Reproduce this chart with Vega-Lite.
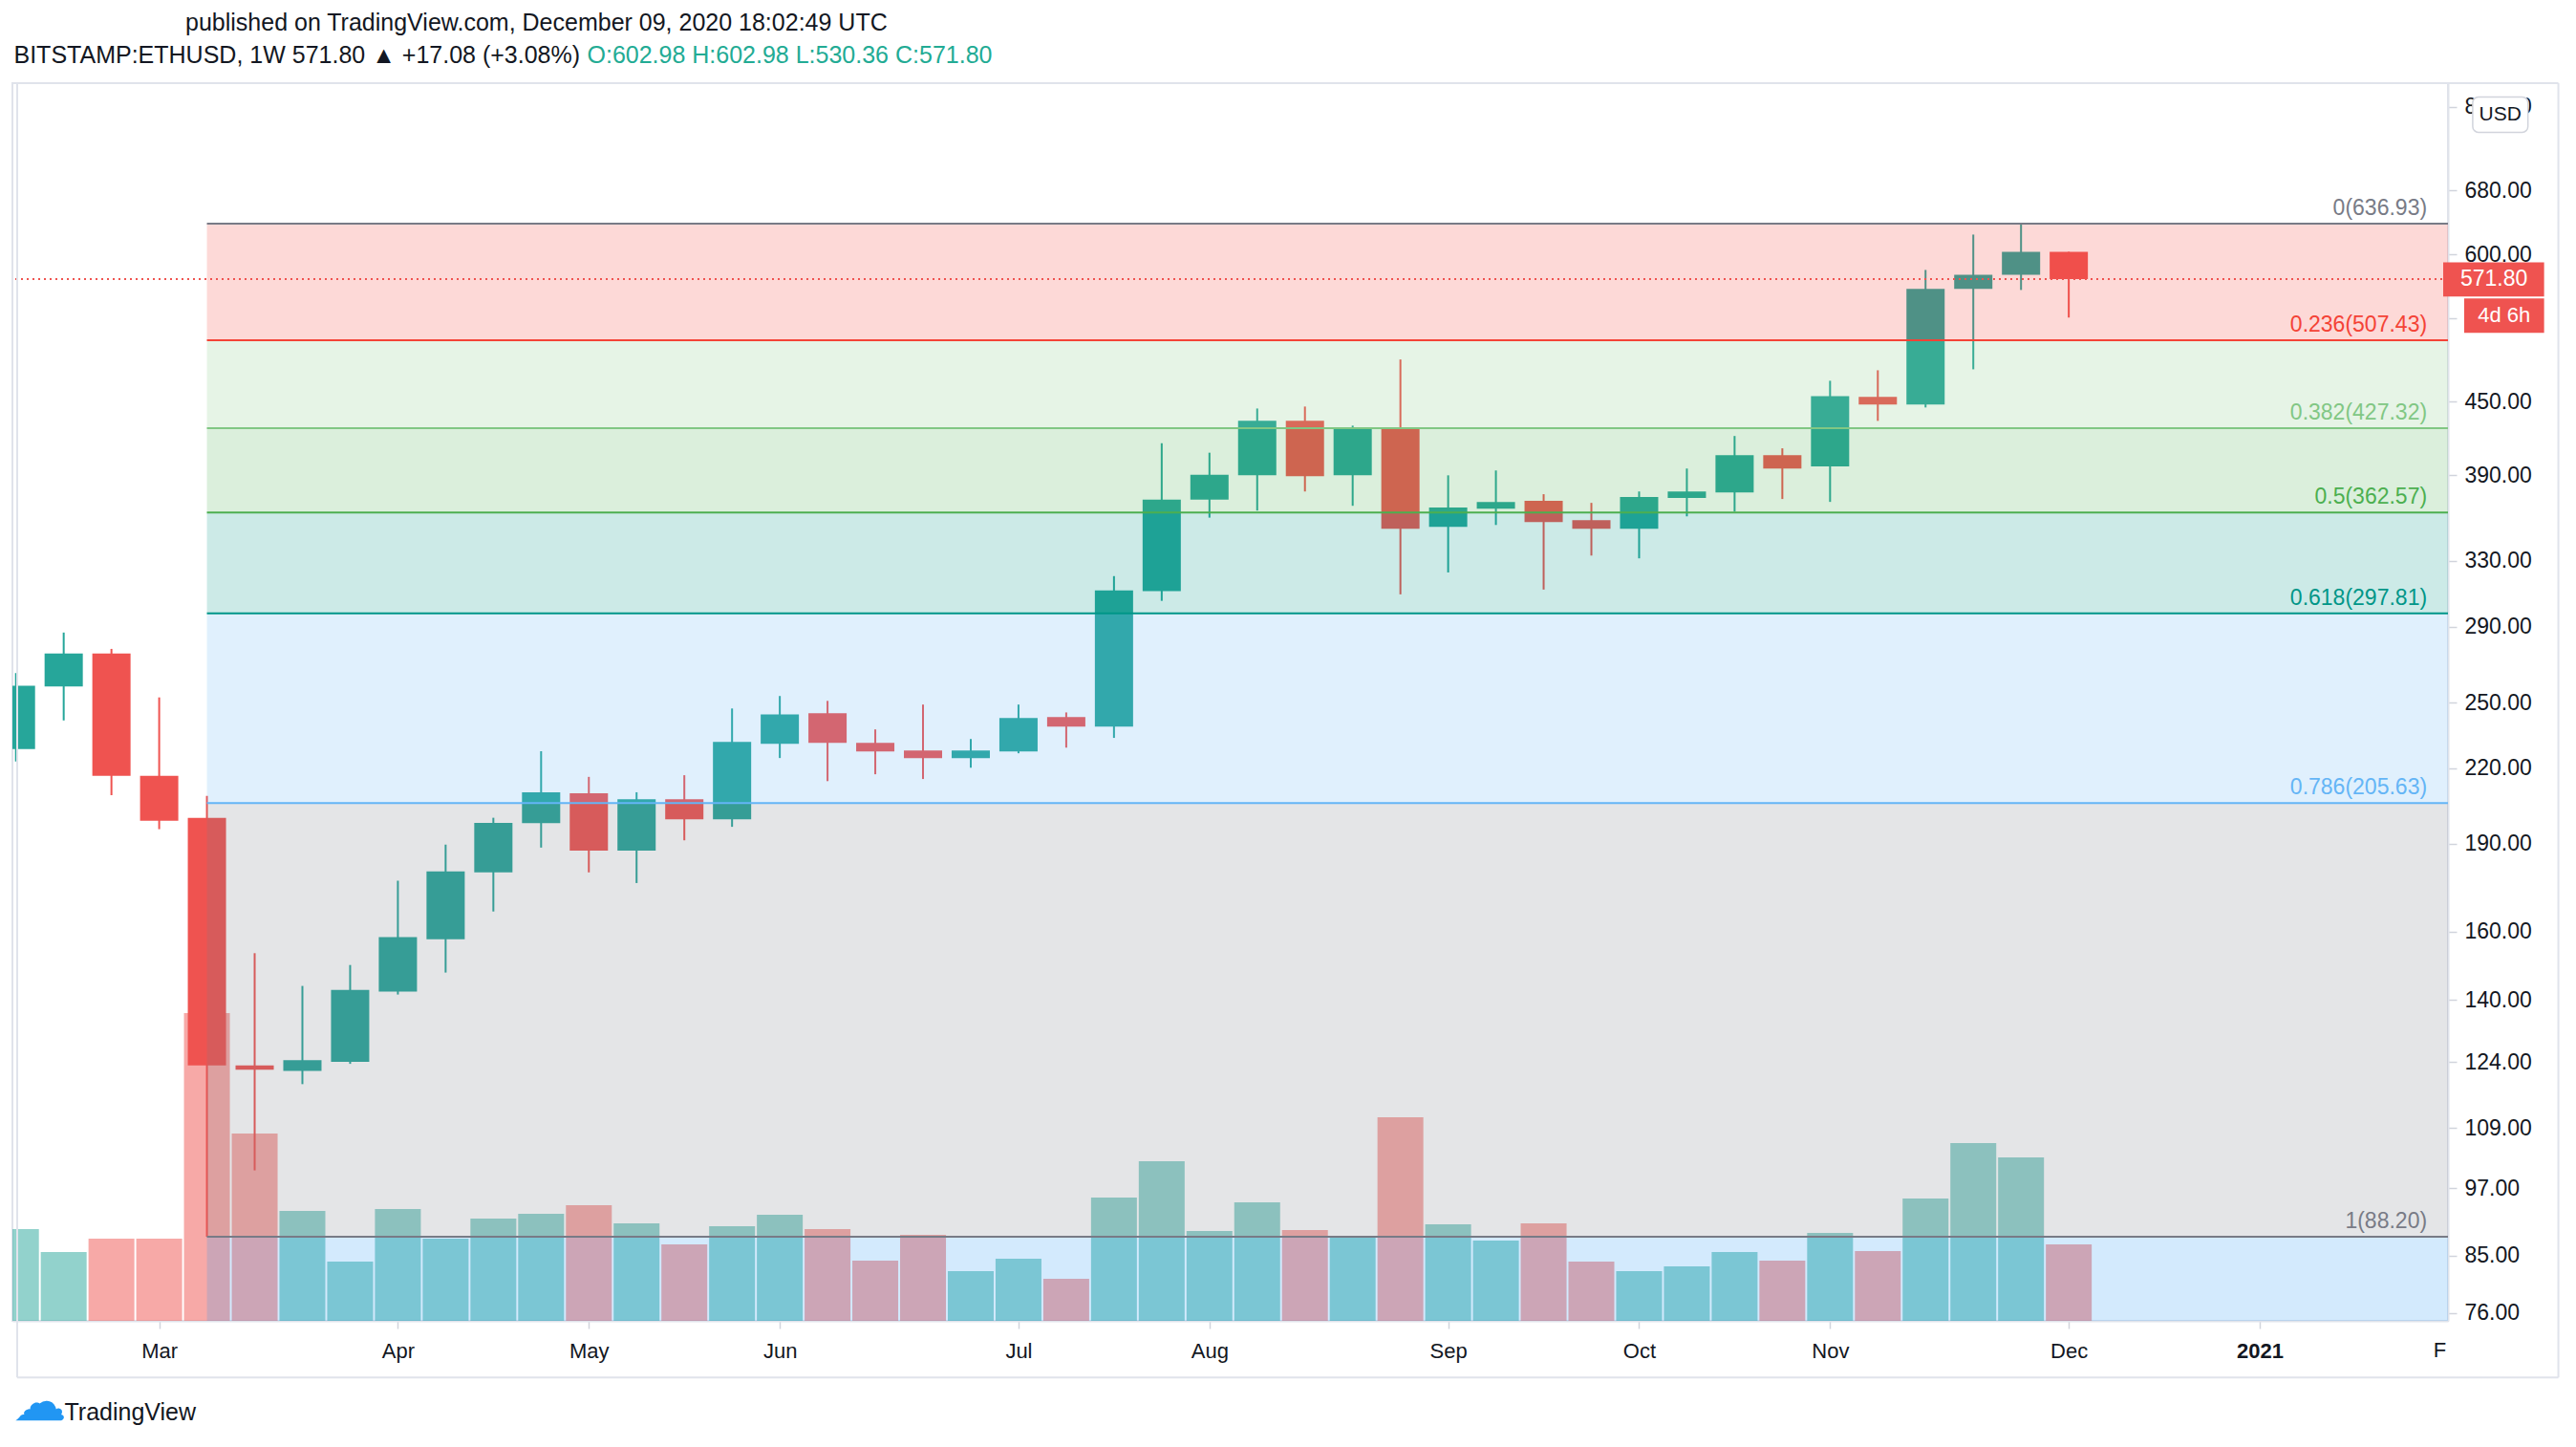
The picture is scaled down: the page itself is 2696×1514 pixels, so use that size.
{
  "$schema": "https://vega.github.io/schema/vega-lite/v6.json",
  "autosize": {"type": "none"},
  "width": 2549,
  "height": 1295,
  "padding": {"left": 13, "top": 87, "right": 134, "bottom": 132},
  "background": "white",
  "config": {
    "view": {"stroke": "#E0E3EB", "strokeWidth": 2},
    "font": "Liberation Sans"
  },
  "title": {
    "text": "published on TradingView.com, December 09, 2020 18:02:49 UTC",
    "anchor": "start",
    "frame": "group",
    "dx": 181,
    "offset": 8,
    "font": "Liberation Sans",
    "fontSize": 25,
    "fontWeight": "normal",
    "color": "#131722"
  },
  "datasets": {
    "candles": [
      {"date": "2020-02-10", "open": 228.5, "high": 265.0, "low": 223.0, "close": 258.5, "volume": 288},
      {"date": "2020-02-17", "open": 258.1, "high": 286.8, "low": 241.6, "close": 275.3, "volume": 216},
      {"date": "2020-02-24", "open": 275.3, "high": 277.8, "low": 208.8, "close": 216.8, "volume": 258},
      {"date": "2020-03-02", "open": 216.8, "high": 252.7, "low": 195.4, "close": 198.6, "volume": 258},
      {"date": "2020-03-09", "open": 199.8, "high": 208.5, "low": 88.2, "close": 123.2, "volume": 966},
      {"date": "2020-03-16", "open": 123.2, "high": 153.4, "low": 100.4, "close": 122.2, "volume": 588},
      {"date": "2020-03-23", "open": 121.9, "high": 143.9, "low": 118.8, "close": 124.5, "volume": 345},
      {"date": "2020-03-30", "open": 124.1, "high": 149.9, "low": 123.6, "close": 142.8, "volume": 186},
      {"date": "2020-04-06", "open": 142.3, "high": 176.7, "low": 141.5, "close": 158.3, "volume": 351},
      {"date": "2020-04-13", "open": 157.6, "high": 189.6, "low": 147.7, "close": 179.9, "volume": 258},
      {"date": "2020-04-20", "open": 179.6, "high": 199.8, "low": 166.4, "close": 197.8, "volume": 321},
      {"date": "2020-04-27", "open": 197.7, "high": 227.5, "low": 188.5, "close": 210.0, "volume": 336},
      {"date": "2020-05-04", "open": 209.6, "high": 216.4, "low": 179.6, "close": 187.4, "volume": 363},
      {"date": "2020-05-11", "open": 187.4, "high": 210.0, "low": 175.9, "close": 207.2, "volume": 306},
      {"date": "2020-05-18", "open": 207.2, "high": 217.1, "low": 191.2, "close": 199.2, "volume": 240},
      {"date": "2020-05-25", "open": 199.2, "high": 247.3, "low": 196.3, "close": 231.7, "volume": 297},
      {"date": "2020-06-01", "open": 230.8, "high": 253.4, "low": 224.5, "close": 244.5, "volume": 333},
      {"date": "2020-06-08", "open": 245.0, "high": 251.0, "low": 214.6, "close": 231.2, "volume": 288},
      {"date": "2020-06-15", "open": 231.2, "high": 237.4, "low": 217.5, "close": 227.4, "volume": 189},
      {"date": "2020-06-22", "open": 227.8, "high": 249.2, "low": 215.5, "close": 224.5, "volume": 270},
      {"date": "2020-06-29", "open": 224.5, "high": 233.0, "low": 220.3, "close": 227.8, "volume": 156},
      {"date": "2020-07-06", "open": 227.4, "high": 249.2, "low": 226.6, "close": 242.7, "volume": 195},
      {"date": "2020-07-13", "open": 243.2, "high": 245.4, "low": 229.1, "close": 238.7, "volume": 132},
      {"date": "2020-07-20", "open": 238.7, "high": 320.2, "low": 233.5, "close": 311.4, "volume": 387},
      {"date": "2020-07-27", "open": 311.0, "high": 415.0, "low": 305.1, "close": 371.8, "volume": 501},
      {"date": "2020-08-03", "open": 371.8, "high": 407.4, "low": 358.9, "close": 390.3, "volume": 282},
      {"date": "2020-08-10", "open": 389.8, "high": 444.1, "low": 363.9, "close": 433.5, "volume": 372},
      {"date": "2020-08-17", "open": 433.5, "high": 445.8, "low": 377.7, "close": 389.1, "volume": 285},
      {"date": "2020-08-24", "open": 389.8, "high": 429.5, "low": 367.3, "close": 427.9, "volume": 261},
      {"date": "2020-08-31", "open": 427.9, "high": 488.7, "low": 309.0, "close": 351.2, "volume": 639},
      {"date": "2020-09-07", "open": 352.5, "high": 389.8, "low": 322.5, "close": 366.0, "volume": 303},
      {"date": "2020-09-14", "open": 365.3, "high": 393.5, "low": 353.8, "close": 370.1, "volume": 252},
      {"date": "2020-09-21", "open": 370.8, "high": 375.7, "low": 311.9, "close": 355.8, "volume": 306},
      {"date": "2020-09-28", "open": 357.2, "high": 369.4, "low": 333.3, "close": 351.2, "volume": 186},
      {"date": "2020-10-05", "open": 351.2, "high": 377.7, "low": 331.5, "close": 373.6, "volume": 156},
      {"date": "2020-10-12", "open": 372.9, "high": 395.0, "low": 359.8, "close": 377.7, "volume": 171},
      {"date": "2020-10-19", "open": 377.0, "high": 420.9, "low": 363.2, "close": 405.5, "volume": 216},
      {"date": "2020-10-26", "open": 405.5, "high": 410.9, "low": 372.2, "close": 395.0, "volume": 189},
      {"date": "2020-11-02", "open": 396.7, "high": 468.8, "low": 370.1, "close": 455.0, "volume": 276},
      {"date": "2020-11-09", "open": 454.2, "high": 478.5, "low": 433.5, "close": 447.5, "volume": 219},
      {"date": "2020-11-16", "open": 447.5, "high": 582.0, "low": 445.0, "close": 560.8, "volume": 384},
      {"date": "2020-11-23", "open": 560.8, "high": 623.6, "low": 479.4, "close": 576.6, "volume": 558},
      {"date": "2020-11-30", "open": 576.6, "high": 636.93, "low": 559.7, "close": 602.98, "volume": 513},
      {"date": "2020-12-07", "open": 602.98, "high": 602.98, "low": 530.36, "close": 571.80, "volume": 240}
    ],
    "fibLevels": [
      {"level": "0", "price": 636.93, "start": "2020-03-09", "label": "0(636.93)"},
      {"level": "0.236", "price": 507.43, "start": "2020-03-09", "label": "0.236(507.43)"},
      {"level": "0.382", "price": 427.32, "start": "2020-03-09", "label": "0.382(427.32)"},
      {"level": "0.5", "price": 362.57, "start": "2020-03-09", "label": "0.5(362.57)"},
      {"level": "0.618", "price": 297.81, "start": "2020-03-09", "label": "0.618(297.81)"},
      {"level": "0.786", "price": 205.63, "start": "2020-03-09", "label": "0.786(205.63)"},
      {"level": "1", "price": 88.20, "start": "2020-03-09", "label": "1(88.20)"}
    ],
    "fibZones": [
      {"level": "0.236", "top": 636.93, "bottom": 507.43, "start": "2020-03-09"},
      {"level": "0.382", "top": 507.43, "bottom": 427.32, "start": "2020-03-09"},
      {"level": "0.5", "top": 427.32, "bottom": 362.57, "start": "2020-03-09"},
      {"level": "0.618", "top": 362.57, "bottom": 297.81, "start": "2020-03-09"},
      {"level": "0.786", "top": 297.81, "bottom": 205.63, "start": "2020-03-09"},
      {"level": "1", "top": 205.63, "bottom": 88.20, "start": "2020-03-09"},
      {"level": "1.618", "top": 88.20, "bottom": 70, "start": "2020-03-09"}
    ],
    "one": [{}]
  },
  "layer": [
    {
      "data": {"name": "candles"},
      "mark": {"type": "bar", "size": 48, "opacity": 0.5, "clip": true},
      "encoding": {
        "x": {
          "field": "date", "type": "temporal",
          "scale": {
            "type": "utc",
            "domain": [
              {"year": 2020, "month": 2, "date": 10, "hours": 4, "minutes": 21, "utc": true},
              {"year": 2021, "month": 1, "date": 30, "hours": 21, "minutes": 36, "utc": true}
            ]
          },
          "axis": {
            "values": [
              {"year": 2020, "month": 3, "date": 2, "utc": true},
              {"year": 2020, "month": 4, "date": 6, "utc": true},
              {"year": 2020, "month": 5, "date": 4, "utc": true},
              {"year": 2020, "month": 6, "date": 1, "utc": true},
              {"year": 2020, "month": 7, "date": 6, "utc": true},
              {"year": 2020, "month": 8, "date": 3, "utc": true},
              {"year": 2020, "month": 9, "date": 7, "utc": true},
              {"year": 2020, "month": 10, "date": 5, "utc": true},
              {"year": 2020, "month": 11, "date": 2, "utc": true},
              {"year": 2020, "month": 12, "date": 7, "utc": true},
              {"year": 2021, "month": 1, "date": 4, "utc": true}
            ],
            "labelExpr": "utcmonth(datum.value) == 0 ? utcFormat(datum.value, '%Y') : utcFormat(datum.value, '%b')",
            "labelFont": "Liberation Sans",
            "labelFontSize": 22,
            "labelColor": "#131722",
            "labelFontWeight": {"condition": {"test": "utcmonth(datum.value) == 0", "value": "bold"}, "value": "normal"},
            "labelBaseline": "middle",
            "labelPadding": 23,
            "labelFlush": false,
            "labelOverlap": false,
            "tickSize": 8,
            "tickColor": "#D1D4DC",
            "tickWidth": 1.5,
            "domainColor": "#E0E3EB",
            "domainWidth": 2,
            "grid": false,
            "title": "TradingView",
            "titleX": 54,
            "titleY": 95,
            "titleAlign": "left",
            "titleBaseline": "middle",
            "titleFont": "Liberation Sans",
            "titleFontSize": 25,
            "titleFontWeight": "normal",
            "titleColor": "#131722"
          }
        },
        "y": {
          "field": "volume", "type": "quantitative",
          "scale": {"domain": [0, 3885], "nice": false, "zero": true},
          "axis": {
            "orient": "left",
            "domain": false, "ticks": false, "labels": false, "grid": false,
            "title": "O:602.98 H:602.98 L:530.36 C:571.80",
            "titleAngle": 0,
            "titleX": 601,
            "titleY": -30,
            "titleAlign": "left",
            "titleBaseline": "middle",
            "titleFont": "Liberation Sans",
            "titleFontSize": 25,
            "titleFontWeight": "normal",
            "titleColor": "#22AB94"
          }
        },
        "color": {"condition": {"test": "datum.close >= datum.open", "value": "#26A69A"}, "value": "#EF5350"}
      }
    },
    {
      "layer": [
        {
          "data": {"name": "candles"},
          "mark": {"type": "rule", "strokeWidth": 2, "clip": true},
          "encoding": {
            "x": {"field": "date", "type": "temporal"},
            "y": {
              "field": "low", "type": "quantitative",
              "scale": {"type": "log", "domain": [74.85, 838.0], "nice": false},
              "axis": {
                "orient": "right",
                "values": [76, 85, 97, 109, 124, 140, 160, 190, 220, 250, 290, 330, 390, 450, 530, 600, 680, 800],
                "format": ".2f",
                "labelFont": "Liberation Sans",
                "labelFontSize": 23,
                "labelColor": "#131722",
                "labelPadding": 8,
                "labelOverlap": false,
                "labelFlush": false,
                "tickSize": 9,
                "tickColor": "#D1D4DC",
                "tickWidth": 1.5,
                "domainColor": "#E0E3EB",
                "domainWidth": 2,
                "grid": false,
                "title": "BITSTAMP:ETHUSD, 1W 571.80 ▲ +17.08 (+3.08%)",
                "titleAngle": 0,
                "titleX": -2548,
                "titleY": -30,
                "titleAlign": "left",
                "titleBaseline": "middle",
                "titleFont": "Liberation Sans",
                "titleFontSize": 25,
                "titleFontWeight": "normal",
                "titleColor": "#131722"
              }
            },
            "y2": {"field": "high"},
            "color": {"condition": {"test": "datum.close >= datum.open", "value": "#26A69A"}, "value": "#EF5350"}
          }
        },
        {
          "data": {"name": "candles"},
          "mark": {"type": "bar", "size": 40, "clip": true},
          "encoding": {
            "x": {"field": "date", "type": "temporal"},
            "y": {"field": "open", "type": "quantitative"},
            "y2": {"field": "close"},
            "color": {"condition": {"test": "datum.close >= datum.open", "value": "#26A69A"}, "value": "#EF5350"}
          }
        },
        {
          "data": {"name": "fibZones"},
          "mark": {"type": "rect", "opacity": 0.2, "clip": true},
          "encoding": {
            "x": {"field": "start", "type": "temporal"},
            "x2": {"datum": {"year": 2021, "month": 6, "date": 1, "utc": true}},
            "y": {"field": "top", "type": "quantitative"},
            "y2": {"field": "bottom"},
            "color": {
              "field": "level", "type": "nominal", "legend": null,
              "scale": {
                "domain": ["0", "0.236", "0.382", "0.5", "0.618", "0.786", "1", "1.618"],
                "range": ["#787B86", "#F44336", "#81C784", "#4CAF50", "#009688", "#64B5F6", "#787B86", "#2196F3"]
              }
            }
          }
        },
        {
          "data": {"name": "fibLevels"},
          "mark": {"type": "rule", "strokeWidth": 2, "clip": true},
          "encoding": {
            "x": {"field": "start", "type": "temporal"},
            "x2": {"datum": {"year": 2021, "month": 6, "date": 1, "utc": true}},
            "y": {"field": "price", "type": "quantitative"},
            "color": {"field": "level", "type": "nominal", "legend": null}
          }
        },
        {
          "data": {"name": "fibLevels"},
          "mark": {"type": "text", "align": "right", "baseline": "bottom", "dy": -4, "fontSize": 23, "font": "Liberation Sans"},
          "encoding": {
            "x": {"datum": {"year": 2021, "month": 1, "date": 28, "hours": 12, "minutes": 45, "utc": true}, "type": "temporal"},
            "y": {"field": "price", "type": "quantitative"},
            "text": {"field": "label"},
            "color": {"field": "level", "type": "nominal", "legend": null}
          }
        },
        {
          "data": {"name": "one"},
          "mark": {"type": "rule", "stroke": "#EF5350", "strokeWidth": 2, "strokeDash": [2, 4]},
          "encoding": {
            "y": {"datum": 571.80, "type": "quantitative"}
          }
        },
        {
          "data": {"name": "one"},
          "mark": {"type": "rect", "fill": "#EF5350", "clip": false},
          "encoding": {
            "x": {"datum": {"year": 2021, "month": 1, "date": 30, "hours": 21, "minutes": 36, "utc": true}, "type": "temporal"},
            "x2": {"datum": {"year": 2021, "month": 2, "date": 14, "hours": 16, "minutes": 44, "utc": true}},
            "y": {"datum": 590.8, "type": "quantitative"},
            "y2": {"datum": 552.5}
          }
        },
        {
          "data": {"name": "one"},
          "mark": {"type": "text", "align": "left", "baseline": "middle", "fill": "#FFFFFF", "fontSize": 23, "font": "Liberation Sans", "clip": false},
          "encoding": {
            "x": {"datum": {"year": 2021, "month": 2, "date": 2, "hours": 9, "minutes": 59, "utc": true}, "type": "temporal"},
            "y": {"datum": 571.80, "type": "quantitative"},
            "text": {"value": "571.80"}
          }
        },
        {
          "data": {"name": "one"},
          "mark": {"type": "rect", "fill": "#EF5350", "clip": false},
          "encoding": {
            "x": {"datum": {"year": 2021, "month": 2, "date": 2, "hours": 23, "minutes": 23, "utc": true}, "type": "temporal"},
            "x2": {"datum": {"year": 2021, "month": 2, "date": 14, "hours": 16, "minutes": 44, "utc": true}},
            "y": {"datum": 550.4, "type": "quantitative"},
            "y2": {"datum": 514.8}
          }
        },
        {
          "data": {"name": "one"},
          "mark": {"type": "text", "align": "center", "baseline": "middle", "fill": "#FFFFFF", "fontSize": 22, "font": "Liberation Sans", "clip": false},
          "encoding": {
            "x": {"datum": {"year": 2021, "month": 2, "date": 8, "hours": 20, "minutes": 2, "utc": true}, "type": "temporal"},
            "y": {"datum": 532.3, "type": "quantitative"},
            "text": {"value": "4d 6h"}
          }
        },
        {
          "data": {"name": "one"},
          "mark": {"type": "rect", "fill": "#FFFFFF", "stroke": "#D1D4DC", "strokeWidth": 1.5, "cornerRadius": 6, "clip": false},
          "encoding": {
            "x": {"datum": {"year": 2021, "month": 2, "date": 4, "hours": 5, "minutes": 31, "utc": true}, "type": "temporal"},
            "x2": {"datum": {"year": 2021, "month": 2, "date": 12, "hours": 7, "minutes": 47, "utc": true}},
            "y": {"datum": 815.8, "type": "quantitative"},
            "y2": {"datum": 761.4}
          }
        },
        {
          "data": {"name": "one"},
          "mark": {"type": "text", "align": "center", "baseline": "middle", "fill": "#131722", "fontSize": 21, "font": "Liberation Sans", "clip": false},
          "encoding": {
            "x": {"datum": {"year": 2021, "month": 2, "date": 8, "hours": 6, "minutes": 39, "utc": true}, "type": "temporal"},
            "y": {"datum": 788.0, "type": "quantitative"},
            "text": {"value": "USD"}
          }
        },
        {
          "data": {"name": "one"},
          "mark": {"type": "text", "align": "left", "baseline": "middle", "fill": "#131722", "fontSize": 22, "font": "Liberation Sans", "clip": false},
          "encoding": {
            "x": {"datum": {"year": 2021, "month": 1, "date": 29, "hours": 10, "minutes": 55, "utc": true}, "type": "temporal"},
            "y": {"datum": 70.62, "type": "quantitative"},
            "text": {"value": "F"}
          }
        },
        {
          "data": {"name": "one"},
          "mark": {"type": "text", "align": "center", "baseline": "middle", "fill": "#2196F3", "fontSize": 56, "font": "DejaVu Sans", "clip": false},
          "encoding": {
            "x": {"datum": {"year": 2020, "month": 2, "date": 13, "hours": 12, "minutes": 0, "utc": true}, "type": "temporal"},
            "y": {"datum": 63.6, "type": "quantitative"},
            "text": {"value": "☁"}
          }
        },
        {
          "data": {"name": "one"},
          "mark": {"type": "rule", "stroke": "#E0E3EB", "strokeWidth": 2, "clip": false},
          "encoding": {
            "x": {"datum": {"year": 2021, "month": 2, "date": 16, "hours": 18, "minutes": 58, "utc": true}, "type": "temporal"},
            "y": {"datum": 838.0, "type": "quantitative"},
            "y2": {"datum": 67.03}
          }
        },
        {
          "data": {"name": "one"},
          "mark": {"type": "rule", "stroke": "#E0E3EB", "strokeWidth": 2, "clip": false},
          "encoding": {
            "x": {"datum": {"year": 2020, "month": 2, "date": 10, "hours": 4, "minutes": 21, "utc": true}, "type": "temporal"},
            "x2": {"datum": {"year": 2021, "month": 2, "date": 16, "hours": 18, "minutes": 58, "utc": true}},
            "y": {"datum": 67.03, "type": "quantitative"}
          }
        },
        {
          "data": {"name": "one"},
          "mark": {"type": "rule", "stroke": "#E0E3EB", "strokeWidth": 2, "clip": false},
          "encoding": {
            "x": {"datum": {"year": 2021, "month": 1, "date": 30, "hours": 21, "minutes": 36, "utc": true}, "type": "temporal"},
            "x2": {"datum": {"year": 2021, "month": 2, "date": 16, "hours": 18, "minutes": 58, "utc": true}},
            "y": {"datum": 838.0, "type": "quantitative"}
          }
        },
        {
          "data": {"name": "one"},
          "mark": {"type": "rule", "stroke": "#E0E3EB", "strokeWidth": 2, "clip": false},
          "encoding": {
            "x": {"datum": {"year": 2020, "month": 2, "date": 10, "hours": 4, "minutes": 21, "utc": true}, "type": "temporal"},
            "y": {"datum": 838.0, "type": "quantitative"},
            "y2": {"datum": 67.03}
          }
        }
      ]
    }
  ],
  "resolve": {"scale": {"y": "independent"}}
}
